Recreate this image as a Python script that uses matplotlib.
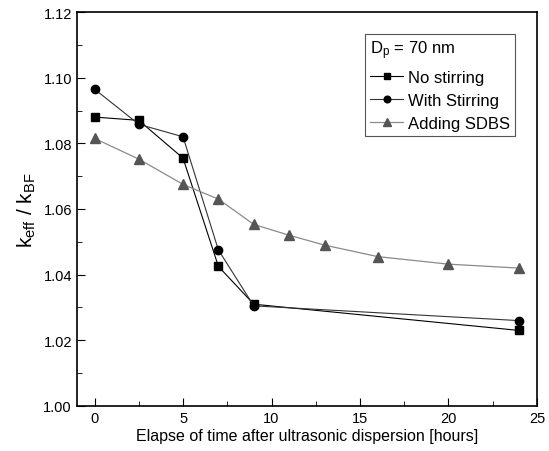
import matplotlib.pyplot as plt
from matplotlib.ticker import MultipleLocator

plt.rcParams['font.family'] = ['Liberation Sans', 'DejaVu Sans']
plt.rcParams['mathtext.fontset'] = 'custom'
plt.rcParams['mathtext.rm'] = 'Liberation Sans'
plt.rcParams['mathtext.it'] = 'Liberation Sans:italic'

# time after dispersion [hours]
t_short = [0, 2.5, 5, 7, 9, 24]
t_sdbs = [0, 2.5, 5, 7, 9, 11, 13, 16, 20, 24]

no_stirring = [1.088, 1.087, 1.0755, 1.0425, 1.031, 1.023]
with_stirring = [1.0965, 1.0858, 1.082, 1.0475, 1.0305, 1.026]
adding_sdbs = [1.0815, 1.0752, 1.0675, 1.063, 1.0553, 1.052, 1.049, 1.0455, 1.0432, 1.042]

fig = plt.figure(figsize=(5.49, 4.52), dpi=100)
ax = fig.add_axes([0.140, 0.0996, 0.838, 0.8716])

ax.plot(t_short, no_stirring, color='black', lw=0.8, marker='s', ms=6,
        label='No stirring')
ax.plot(t_short, with_stirring, color='#333333', lw=0.8, marker='o', ms=6,
        mfc='black', mec='black', label='With Stirring')
ax.plot(t_sdbs, adding_sdbs, color='#8a8a8a', lw=0.9, marker='^', ms=7.5,
        mfc='#555555', mec='#555555', label='Adding SDBS')

ax.set_xlim(-1, 25)
ax.set_ylim(1.00, 1.12)
ax.xaxis.set_major_locator(MultipleLocator(5))
ax.xaxis.set_minor_locator(MultipleLocator(2.5))
ax.yaxis.set_major_locator(MultipleLocator(0.02))
ax.yaxis.set_minor_locator(MultipleLocator(0.01))
ax.yaxis.set_major_formatter(plt.FormatStrFormatter('%.2f'))
ax.tick_params(which='both', direction='in', labelsize=10.5)
ax.tick_params(which='major', length=6)
ax.tick_params(which='minor', length=3.5)
for s in ax.spines.values():
    s.set_linewidth(1.2)

ax.set_xlabel('Elapse of time after ultrasonic dispersion [hours]', fontsize=11.5, labelpad=2)
ax.set_ylabel(r'k$_{\rm eff}$ / k$_{\rm BF}$', fontsize=15, labelpad=4)

leg = ax.legend(loc='upper right', title=r'D$_{\rm p}$ = 70 nm', fontsize=12,
                title_fontsize=12, fancybox=False, edgecolor='#555555',
                framealpha=1, handlelength=2.0, borderaxespad=1.3,
                labelspacing=0.5, handletextpad=0.3, borderpad=0.3,
                markerscale=0.8)
leg._legend_box.align = 'left'
leg.get_frame().set_linewidth(0.8)

fig.savefig('out.png', dpi=100)
